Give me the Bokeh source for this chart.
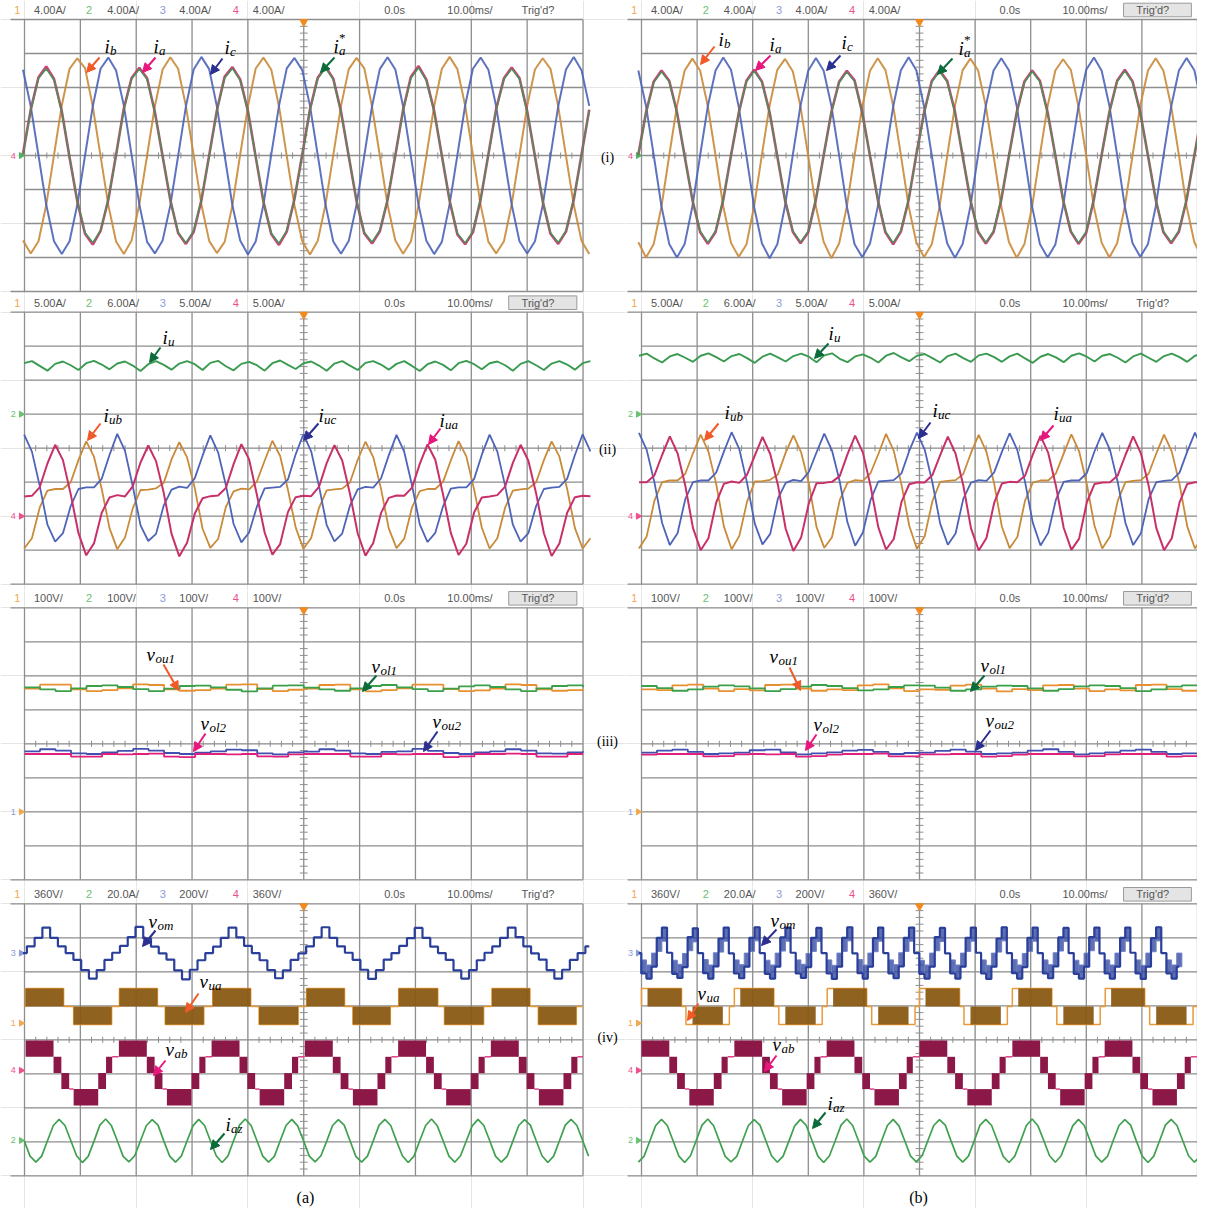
import numpy as np
from bokeh.plotting import figure
from bokeh.layouts import gridplot
from bokeh.models import Arrow, NormalHead
from bokeh.embed import file_html
from bokeh.resources import INLINE
from bokeh.core.properties import value

# ---------------- data (divisions; 10 x 8 div screen, 10 ms/div) ----------------
PERIOD = 1.6667          # fundamental period in divisions
STEP = PERIOD / 12       # sample spacing of the read-off traces

# row (i): phase currents, sampled every PERIOD/12
T0_A1 = -0.027
T0_B1 = -0.057
ia_a = [0.05, 1.35, 2.3, 2.62, 2.25, 1.3, -0.05, -1.35, -2.3, -2.62, -2.22, -1.3,
        0.02, 1.38, 2.28, 2.58, 2.27, 1.28, -0.02, -1.32, -2.28, -2.6, -2.25, -1.32,
        0.0, 1.33, 2.32, 2.6, 2.24, 1.31, -0.04, -1.36, -2.31, -2.63, -2.24, -1.28,
        0.03, 1.36, 2.29, 2.61, 2.26, 1.29, -0.03, -1.34, -2.29, -2.59, -2.23, -1.31,
        0.01, 1.34, 2.31, 2.63, 2.23, 1.32, -0.01, -1.33, -2.32, -2.61, -2.26, -1.29,
        0.04, 1.37, 2.27, 2.59, 2.28, 1.3, -0.02, -1.35, -2.3, -2.6, -2.24, -1.3,
        0.02, 1.35]
ias_a = [0.02, 1.32, 2.26, 2.55, 2.22, 1.28, -0.03, -1.33, -2.27, -2.56, -2.2, -1.29,
         0.0, 1.35, 2.25, 2.54, 2.24, 1.27, -0.01, -1.3, -2.26, -2.57, -2.22, -1.3,
         -0.02, 1.31, 2.28, 2.56, 2.21, 1.29, -0.03, -1.34, -2.28, -2.58, -2.21, -1.27,
         0.01, 1.33, 2.26, 2.57, 2.23, 1.27, -0.02, -1.32, -2.26, -2.55, -2.2, -1.29,
         0.0, 1.32, 2.27, 2.58, 2.2, 1.3, 0.0, -1.31, -2.29, -2.57, -2.23, -1.28,
         0.02, 1.34, 2.24, 2.55, 2.25, 1.28, -0.01, -1.33, -2.27, -2.56, -2.21, -1.29,
         0.0, 1.33]
ib_a = [-2.5, -2.88, -2.52, -1.45, 0.02, 1.47, 2.55, 2.86, 2.57, 1.44, -0.02, -1.46,
        -2.53, -2.9, -2.5, -1.43, 0.0, 1.45, 2.53, 2.89, 2.55, 1.46, 0.01, -1.44,
        -2.51, -2.87, -2.54, -1.46, 0.03, 1.44, 2.56, 2.88, 2.53, 1.45, -0.01, -1.47,
        -2.52, -2.91, -2.51, -1.44, 0.01, 1.46, 2.54, 2.87, 2.56, 1.43, 0.0, -1.45,
        -2.5, -2.89, -2.53, -1.45, -0.02, 1.45, 2.55, 2.9, 2.54, 1.47, 0.02, -1.46,
        -2.54, -2.88, -2.52, -1.44, 0.0, 1.46, 2.53, 2.86, 2.55, 1.44, -0.01, -1.45,
        -2.51, -2.9]
ic_a = [2.52, 1.45, 0.0, -1.45, -2.52, -2.9, -2.52, -1.45, 0.0, 1.45, 2.55, 2.88,
        2.5, 1.47, 0.02, -1.44, -2.54, -2.88, -2.5, -1.46, -0.01, 1.44, 2.53, 2.9,
        2.54, 1.44, -0.01, -1.47, -2.5, -2.91, -2.53, -1.44, 0.02, 1.46, 2.56, 2.87,
        2.51, 1.46, 0.01, -1.45, -2.53, -2.89, -2.51, -1.45, 0.0, 1.45, 2.54, 2.89,
        2.53, 1.45, -0.02, -1.46, -2.51, -2.9, -2.54, -1.43, 0.01, 1.47, 2.55, 2.88,
        2.52, 1.44, 0.0, -1.44, -2.52, -2.88, -2.52, -1.46, -0.02, 1.45, 2.53, 2.9,
        2.51, 1.46]
ia_b = [0.02, 1.27, 2.18, 2.5, 2.2, 1.28, -0.02, -1.3, -2.25, -2.6, -2.25, -1.3,
        0.0, 1.25, 2.2, 2.52, 2.18, 1.27, -0.03, -1.32, -2.24, -2.58, -2.26, -1.29,
        0.01, 1.28, 2.17, 2.49, 2.21, 1.26, -0.01, -1.29, -2.26, -2.61, -2.24, -1.31,
        0.03, 1.26, 2.19, 2.51, 2.19, 1.29, -0.02, -1.31, -2.25, -2.59, -2.25, -1.3,
        0.0, 1.27, 2.18, 2.5, 2.2, 1.27, 0.0, -1.3, -2.24, -2.6, -2.27, -1.28,
        0.02, 1.28, 2.2, 2.52, 2.18, 1.26, -0.01, -1.3, -2.26, -2.58, -2.24, -1.3,
        0.0, 1.27]
ias_b = [0.0, 1.25, 2.15, 2.46, 2.17, 1.26, -0.03, -1.29, -2.22, -2.56, -2.22, -1.28,
         -0.01, 1.24, 2.17, 2.48, 2.15, 1.25, -0.02, -1.3, -2.21, -2.55, -2.23, -1.27,
         0.0, 1.26, 2.14, 2.46, 2.18, 1.24, 0.0, -1.27, -2.23, -2.57, -2.21, -1.29,
         0.02, 1.24, 2.16, 2.47, 2.16, 1.27, -0.01, -1.29, -2.22, -2.56, -2.22, -1.28,
         -0.01, 1.25, 2.15, 2.47, 2.17, 1.25, 0.01, -1.28, -2.21, -2.57, -2.24, -1.26,
         0.01, 1.26, 2.17, 2.49, 2.15, 1.24, 0.0, -1.28, -2.23, -2.55, -2.21, -1.28,
         0.0, 1.25]
ib_b = [-2.55, -3.0, -2.6, -1.5, 0.0, 1.45, 2.5, 2.85, 2.5, 1.45, 0.0, -1.5,
        -2.57, -2.98, -2.62, -1.48, 0.02, 1.47, 2.52, 2.84, 2.48, 1.44, -0.02, -1.51,
        -2.54, -3.02, -2.59, -1.5, 0.0, 1.44, 2.49, 2.86, 2.51, 1.46, 0.01, -1.49,
        -2.56, -2.99, -2.61, -1.51, -0.01, 1.46, 2.51, 2.85, 2.5, 1.45, 0.0, -1.5,
        -2.55, -3.01, -2.6, -1.49, 0.01, 1.45, 2.5, 2.83, 2.52, 1.43, -0.01, -1.52,
        -2.57, -3.0, -2.58, -1.5, 0.0, 1.47, 2.5, 2.86, 2.49, 1.45, 0.02, -1.5,
        -2.55, -3.0]
ic_b = [2.5, 1.45, 0.0, -1.5, -2.6, -3.0, -2.6, -1.5, 0.0, 1.45, 2.5, 2.88,
        2.52, 1.43, -0.02, -1.52, -2.58, -3.02, -2.61, -1.48, 0.01, 1.47, 2.49, 2.87,
        2.49, 1.46, 0.01, -1.49, -2.61, -2.99, -2.59, -1.51, -0.01, 1.44, 2.51, 2.89,
        2.51, 1.44, 0.0, -1.5, -2.59, -3.01, -2.6, -1.5, 0.02, 1.46, 2.5, 2.86,
        2.5, 1.45, -0.01, -1.51, -2.6, -3.0, -2.62, -1.49, 0.0, 1.45, 2.52, 2.88,
        2.49, 1.46, 0.02, -1.5, -2.58, -2.98, -2.6, -1.5, -0.01, 1.44, 2.5, 2.87,
        2.51, 1.45]

# row (ii): dc current i_u and upper-arm currents, sampled every PERIOD/12
T0_A2 = -0.006
T0_B2 = -0.046
iu_a = [2.5, 2.56, 2.42, 2.28, 2.48, 2.55, 2.44, 2.3, 2.5, 2.57, 2.46, 2.32,
        2.49, 2.55, 2.43, 2.27, 2.47, 2.56, 2.45, 2.31, 2.49, 2.56, 2.47, 2.3,
        2.51, 2.57, 2.41, 2.29, 2.48, 2.54, 2.44, 2.28, 2.5, 2.58, 2.45, 2.33,
        2.5, 2.55, 2.43, 2.28, 2.49, 2.56, 2.43, 2.3, 2.51, 2.56, 2.46, 2.31,
        2.48, 2.56, 2.42, 2.27, 2.47, 2.55, 2.45, 2.29, 2.5, 2.57, 2.47, 2.32,
        2.5, 2.55, 2.44, 2.28, 2.48, 2.56, 2.44, 2.3, 2.49, 2.56, 2.46, 2.31,
        2.5, 2.56]
iua_a = [-1.42, -1.4, -1.15, -0.45, 0.1, -0.35, -1.35, -2.5, -3.15, -2.8, -1.9, -1.45,
         -1.38, -1.42, -1.12, -0.42, 0.08, -0.38, -1.32, -2.52, -3.18, -2.78, -1.92, -1.47,
         -1.41, -1.39, -1.17, -0.47, 0.12, -0.33, -1.37, -2.48, -3.13, -2.82, -1.88, -1.44,
         -1.4, -1.41, -1.14, -0.44, 0.09, -0.36, -1.34, -2.51, -3.16, -2.79, -1.91, -1.46,
         -1.39, -1.4, -1.16, -0.46, 0.11, -0.34, -1.36, -2.49, -3.14, -2.81, -1.89, -1.45,
         -1.42, -1.38, -1.13, -0.43, 0.1, -0.37, -1.33, -2.5, -3.17, -2.8, -1.9, -1.44,
         -1.4, -1.41]
iub_a = [-2.95, -2.65, -1.75, -1.25, -1.2, -1.2, -1.0, -0.35, 0.2, -0.25, -1.2, -2.35,
         -2.97, -2.63, -1.77, -1.23, -1.22, -1.18, -1.02, -0.33, 0.18, -0.27, -1.18, -2.37,
         -2.93, -2.67, -1.73, -1.27, -1.19, -1.21, -0.98, -0.37, 0.22, -0.23, -1.22, -2.33,
         -2.96, -2.64, -1.76, -1.24, -1.21, -1.19, -1.01, -0.34, 0.19, -0.26, -1.19, -2.36,
         -2.94, -2.66, -1.74, -1.26, -1.2, -1.2, -0.99, -0.36, 0.21, -0.24, -1.21, -2.34,
         -2.95, -2.65, -1.75, -1.25, -1.21, -1.19, -1.0, -0.35, 0.2, -0.25, -1.2, -2.35,
         -2.95, -2.65]
iuc_a = [0.4, -0.1, -1.1, -2.25, -2.75, -2.5, -1.7, -1.2, -1.15, -1.15, -0.9, -0.2,
         0.42, -0.08, -1.12, -2.27, -2.73, -2.52, -1.68, -1.22, -1.13, -1.17, -0.88, -0.22,
         0.38, -0.12, -1.08, -2.23, -2.77, -2.48, -1.72, -1.18, -1.16, -1.14, -0.92, -0.18,
         0.41, -0.09, -1.11, -2.26, -2.74, -2.51, -1.69, -1.21, -1.14, -1.16, -0.89, -0.21,
         0.39, -0.11, -1.09, -2.24, -2.76, -2.49, -1.71, -1.19, -1.15, -1.15, -0.91, -0.19,
         0.4, -0.1, -1.1, -2.25, -2.75, -2.5, -1.7, -1.2, -1.16, -1.14, -0.9, -0.2,
         0.41, -0.09]
iu_b = [2.72, 2.78, 2.64, 2.52, 2.7, 2.77, 2.66, 2.54, 2.72, 2.79, 2.68, 2.55,
        2.71, 2.77, 2.65, 2.51, 2.69, 2.78, 2.67, 2.55, 2.71, 2.78, 2.69, 2.53,
        2.73, 2.79, 2.63, 2.53, 2.7, 2.76, 2.66, 2.52, 2.72, 2.8, 2.67, 2.56,
        2.72, 2.77, 2.65, 2.52, 2.71, 2.78, 2.65, 2.54, 2.73, 2.78, 2.68, 2.54,
        2.7, 2.78, 2.64, 2.51, 2.69, 2.77, 2.67, 2.53, 2.72, 2.79, 2.69, 2.55,
        2.72, 2.77, 2.66, 2.52, 2.7, 2.78, 2.66, 2.54, 2.71, 2.78, 2.68, 2.54,
        2.72, 2.78]
iua_b = [-1.0, -1.0, -0.8, -0.2, 0.35, -0.15, -1.1, -2.35, -3.0, -2.65, -1.6, -1.05,
         -0.98, -1.02, -0.78, -0.22, 0.33, -0.17, -1.08, -2.37, -3.02, -2.63, -1.62, -1.03,
         -1.02, -0.99, -0.82, -0.18, 0.37, -0.13, -1.12, -2.33, -2.98, -2.67, -1.58, -1.06,
         -1.0, -1.01, -0.79, -0.21, 0.34, -0.16, -1.09, -2.36, -3.01, -2.64, -1.61, -1.04,
         -0.99, -1.0, -0.81, -0.19, 0.36, -0.14, -1.11, -2.34, -2.99, -2.66, -1.59, -1.05,
         -1.01, -1.0, -0.8, -0.2, 0.35, -0.15, -1.1, -2.35, -3.0, -2.65, -1.6, -1.05,
         -1.0, -1.0]
iub_b = [-2.95, -2.6, -1.55, -1.0, -0.95, -0.95, -0.75, -0.15, 0.4, -0.1, -1.05, -2.3,
         -2.97, -2.58, -1.57, -0.98, -0.97, -0.93, -0.77, -0.13, 0.38, -0.12, -1.03, -2.32,
         -2.93, -2.62, -1.53, -1.02, -0.94, -0.96, -0.73, -0.17, 0.42, -0.08, -1.07, -2.28,
         -2.96, -2.59, -1.56, -0.99, -0.96, -0.94, -0.76, -0.14, 0.39, -0.11, -1.04, -2.31,
         -2.94, -2.61, -1.54, -1.01, -0.95, -0.95, -0.74, -0.16, 0.41, -0.09, -1.06, -2.29,
         -2.95, -2.6, -1.55, -1.0, -0.96, -0.94, -0.75, -0.15, 0.4, -0.1, -1.05, -2.3,
         -2.95, -2.6]
iuc_b = [0.45, -0.05, -1.0, -2.2, -2.85, -2.5, -1.5, -1.0, -0.95, -0.95, -0.72, -0.1,
         0.47, -0.03, -1.02, -2.22, -2.83, -2.52, -1.48, -1.02, -0.93, -0.97, -0.7, -0.12,
         0.43, -0.07, -0.98, -2.18, -2.87, -2.48, -1.52, -0.98, -0.96, -0.94, -0.74, -0.08,
         0.46, -0.04, -1.01, -2.21, -2.84, -2.51, -1.49, -1.01, -0.94, -0.96, -0.71, -0.11,
         0.44, -0.06, -0.99, -2.19, -2.86, -2.49, -1.51, -0.99, -0.95, -0.95, -0.73, -0.09,
         0.45, -0.05, -1.0, -2.2, -2.85, -2.5, -1.5, -1.0, -0.96, -0.94, -0.72, -0.1,
         0.46, -0.04]

# row (iii): module capacitor voltages, sampled every PERIOD/6 (stepped)
T0_3 = 0.0
vou1_a = [1.62, 1.74, 1.74, 1.6, 1.55, 1.58, 1.63, 1.75, 1.73, 1.6, 1.56, 1.58,
          1.62, 1.74, 1.75, 1.61, 1.55, 1.59, 1.62, 1.73, 1.74, 1.6, 1.54, 1.58,
          1.63, 1.74, 1.74, 1.61, 1.55, 1.57, 1.62, 1.75, 1.73, 1.6, 1.56, 1.58, 1.62]
vol1_a = [1.66, 1.6, 1.55, 1.63, 1.7, 1.72, 1.67, 1.61, 1.55, 1.62, 1.7, 1.71,
          1.66, 1.59, 1.54, 1.63, 1.71, 1.72, 1.65, 1.6, 1.56, 1.63, 1.7, 1.73,
          1.66, 1.61, 1.55, 1.62, 1.69, 1.72, 1.67, 1.6, 1.55, 1.63, 1.7, 1.72, 1.66]
vou2_a = [-0.22, -0.16, -0.2, -0.28, -0.3, -0.25, -0.21, -0.15, -0.2, -0.27, -0.3, -0.26,
          -0.22, -0.17, -0.19, -0.28, -0.31, -0.25, -0.23, -0.16, -0.2, -0.28, -0.3, -0.24,
          -0.22, -0.15, -0.21, -0.27, -0.3, -0.25, -0.22, -0.16, -0.2, -0.28, -0.29, -0.25, -0.22]
vol2_a = [-0.3, -0.3, -0.3, -0.38, -0.38, -0.3, -0.31, -0.3, -0.29, -0.38, -0.39, -0.3,
          -0.3, -0.31, -0.3, -0.37, -0.38, -0.31, -0.3, -0.3, -0.3, -0.38, -0.38, -0.3,
          -0.31, -0.3, -0.3, -0.39, -0.37, -0.3, -0.3, -0.29, -0.3, -0.38, -0.38, -0.3, -0.3]
vou1_b = [1.6, 1.58, 1.72, 1.74, 1.62, 1.55, 1.61, 1.57, 1.73, 1.74, 1.62, 1.56,
          1.6, 1.58, 1.72, 1.75, 1.63, 1.55, 1.6, 1.59, 1.71, 1.74, 1.62, 1.54,
          1.61, 1.58, 1.72, 1.73, 1.62, 1.55, 1.6, 1.57, 1.73, 1.74, 1.61, 1.56, 1.6]
vol1_b = [1.7, 1.64, 1.56, 1.6, 1.68, 1.72, 1.69, 1.63, 1.55, 1.61, 1.68, 1.73,
          1.7, 1.64, 1.57, 1.6, 1.67, 1.72, 1.71, 1.65, 1.56, 1.6, 1.68, 1.71,
          1.7, 1.63, 1.56, 1.61, 1.69, 1.72, 1.7, 1.64, 1.55, 1.6, 1.68, 1.72, 1.7]
vou2_b = [-0.26, -0.2, -0.17, -0.24, -0.3, -0.28, -0.26, -0.19, -0.17, -0.25, -0.31, -0.28,
          -0.25, -0.2, -0.18, -0.24, -0.3, -0.27, -0.26, -0.21, -0.17, -0.23, -0.3, -0.28,
          -0.26, -0.2, -0.16, -0.24, -0.31, -0.28, -0.25, -0.2, -0.17, -0.24, -0.3, -0.28, -0.26]
vol2_b = [-0.32, -0.3, -0.3, -0.3, -0.37, -0.36, -0.31, -0.3, -0.31, -0.3, -0.38, -0.36,
          -0.32, -0.3, -0.3, -0.29, -0.37, -0.37, -0.31, -0.31, -0.3, -0.3, -0.38, -0.36,
          -0.32, -0.3, -0.3, -0.3, -0.37, -0.36, -0.31, -0.3, -0.3, -0.3, -0.38, -0.36, -0.32]

# row (iv)
VOM_MID = 2.55
T0_VOM_A = -0.027
vom_a = [2.55, 2.75, 3.0, 3.3, 3.0, 2.75, 2.55, 2.35, 2.05, 1.8, 2.05, 2.35,
         2.56, 2.76, 3.02, 3.32, 2.98, 2.74, 2.54, 2.36, 2.04, 1.78, 2.06, 2.34,
         2.55, 2.74, 3.0, 3.3, 3.01, 2.76, 2.55, 2.34, 2.05, 1.81, 2.04, 2.35,
         2.54, 2.75, 3.01, 3.31, 3.0, 2.75, 2.56, 2.35, 2.06, 1.79, 2.05, 2.36,
         2.55, 2.76, 2.99, 3.29, 3.0, 2.74, 2.55, 2.35, 2.04, 1.8, 2.05, 2.34,
         2.56, 2.75, 3.0, 3.3, 3.02, 2.75, 2.54, 2.36, 2.05, 1.8, 2.06, 2.35,
         2.55, 2.75]
T0_VOM_B = -0.05
vom_b = [2.55, 1.95, 1.8, 2.15, 3.0, 3.3, 2.56, 1.94, 1.82, 2.14, 3.02, 3.28,
         2.55, 1.96, 1.8, 2.16, 2.98, 3.3, 2.54, 1.95, 1.81, 2.15, 3.0, 3.31,
         2.55, 1.94, 1.8, 2.15, 3.01, 3.3, 2.56, 1.95, 1.82, 2.14, 3.0, 3.29,
         2.55, 1.95, 1.79, 2.15, 3.0, 3.31, 2.54, 1.96, 1.8, 2.15, 2.99, 3.3,
         2.55, 1.95, 1.81, 2.16, 3.0, 3.3, 2.55, 1.94, 1.8, 2.15, 3.02, 3.29,
         2.54, 1.95, 1.8, 2.15, 3.0, 3.3, 2.56, 1.95, 1.79, 2.15, 2.98, 3.31,
         2.55, 1.96, 1.8, 2.14, 3.0, 3.3, 2.55, 1.95, 1.81, 2.16, 3.01, 3.29,
         2.55, 1.94, 1.8, 2.15, 3.02, 3.3, 2.54, 1.95, 1.8, 2.15, 3.0, 3.3,
         2.56, 1.95, 1.79, 2.15, 2.99, 3.31, 2.55, 1.95, 1.8, 2.15]
VUA_LEVELS = [0.45, 0.98, 1.51]
vua_hi_a = [[0.02, 0.70], [1.70, 2.38], [3.37, 4.05], [5.05, 5.73], [6.70, 7.40], [8.37, 9.05]]
vua_lo_a = [[0.88, 1.56], [2.52, 3.21], [4.20, 4.90], [5.88, 6.55], [7.52, 8.22], [9.20, 9.88]]
vua_hi_b = [[0.0, 0.72], [1.67, 2.38], [3.34, 4.05], [5.0, 5.72], [6.67, 7.38], [8.34, 9.05]]
vua_lo_b = [[0.8, 1.58], [2.47, 3.25], [4.14, 4.92], [5.8, 6.58], [7.47, 8.25], [9.14, 9.92]]
VAB_LEVELS = [-1.93, -1.45, -0.98, -0.5, -0.02]
# one period of v_ab: (start, end, lower level, upper level, PWM band?)
vab_period = [(0.0, 0.5, 3, 4, 1), (0.5, 0.64, 2, 3, 1), (0.64, 0.78, 1, 2, 1),
              (0.78, 0.86, 1, 1, 0), (0.86, 1.3, 0, 1, 1), (1.3, 1.44, 1, 2, 1),
              (1.44, 1.55, 2, 3, 1), (1.55, 1.667, 3, 3, 0)]
VAB_START_A = [0.02, 1.69, 3.35, 5.02, 6.69, 8.35]
VAB_START_B = [0.0, 1.67, 3.33, 5.0, 6.67, 8.33]
T0_IAZ_A = -0.005
iaz_a = [-2.97, -3.42, -3.6, -3.42, -2.97, -2.52, -2.34, -2.52,
         -2.96, -3.41, -3.61, -3.43, -2.98, -2.51, -2.33, -2.53,
         -2.97, -3.43, -3.59, -3.41, -2.96, -2.52, -2.35, -2.51,
         -2.98, -3.42, -3.6, -3.42, -2.97, -2.53, -2.34, -2.52,
         -2.97, -3.41, -3.61, -3.42, -2.96, -2.51, -2.33, -2.52,
         -2.97, -3.42, -3.6, -3.43, -2.97, -2.52, -2.34, -2.53,
         -2.96, -3.42, -3.59, -3.41, -2.98, -2.52, -2.35, -2.51,
         -2.97, -3.43, -3.6, -3.42, -2.97, -2.51, -2.34, -2.52,
         -2.98, -3.41, -3.61, -3.42, -2.96, -2.52, -2.33, -2.53,
         -2.97, -3.42, -3.6, -3.41, -2.97, -2.53, -2.34, -2.52,
         -2.96, -3.42, -3.6, -3.43, -2.98, -2.52, -2.35, -2.51,
         -2.97, -3.41, -3.61, -3.42, -2.97, -2.51, -2.34, -2.52,
         -2.97, -3.42]
T0_IAZ_B = -0.057
iaz_b = [-3.6, -3.42, -2.97, -2.52, -2.34, -2.52, -2.97, -3.42,
         -3.61, -3.41, -2.96, -2.51, -2.33, -2.53, -2.98, -3.43,
         -3.59, -3.43, -2.97, -2.52, -2.35, -2.51, -2.96, -3.41,
         -3.6, -3.42, -2.98, -2.53, -2.34, -2.52, -2.97, -3.42,
         -3.61, -3.41, -2.97, -2.51, -2.33, -2.52, -2.96, -3.42,
         -3.6, -3.43, -2.97, -2.52, -2.34, -2.53, -2.97, -3.42,
         -3.59, -3.41, -2.96, -2.52, -2.35, -2.51, -2.98, -3.42,
         -3.6, -3.42, -2.97, -2.51, -2.34, -2.52, -2.97, -3.43,
         -3.61, -3.42, -2.98, -2.52, -2.33, -2.53, -2.96, -3.41,
         -3.6, -3.41, -2.97, -2.53, -2.34, -2.52, -2.97, -3.42,
         -3.6, -3.43, -2.96, -2.52, -2.35, -2.51, -2.98, -3.42,
         -3.61, -3.42, -2.97, -2.51, -2.34, -2.52, -2.97, -3.41,
         -3.6, -3.42]

# ---------------- layout (page pixels) ----------------
ROW_TOP = [0, 294, 590, 886]
ROW_H = [294, 296, 296, 322]
GRID_TOP = [19.0, 311.7, 607.3, 903.3]
DIV_H = 34.0
COL_LEFT = [0, 625]
COL_W = [625, 572]
GRID_LEFT = [24.0, 641.0]
DIV_W = [55.85, 55.6]

GRIDC = "#8e8e8e"
SANS = value("Liberation Sans")
SERIF = value("Liberation Serif")


def pg(c, r, px, py):
    return (px - GRID_LEFT[c]) / DIV_W[c], 4 - (py - GRID_TOP[r]) / DIV_H


def tgrid(t0, step, n):
    return list(t0 + step * np.arange(n))


def make_fig(c, r):
    x0 = (COL_LEFT[c] - GRID_LEFT[c]) / DIV_W[c]
    x1 = x0 + COL_W[c] / DIV_W[c]
    y1 = 4 + (GRID_TOP[r] - ROW_TOP[r]) / DIV_H
    y0 = y1 - ROW_H[r] / DIV_H
    p = figure(width=COL_W[c], height=ROW_H[r], x_range=(x0, x1), y_range=(y0, y1),
               output_backend="svg", toolbar_location=None,
               x_axis_location=None, y_axis_location=None, min_border=0)
    p.outline_line_color = None
    p.background_fill_color = "white"
    p.border_fill_color = "white"
    xs = list(range(11))
    p.segment(x0=xs, y0=[-4] * 11, x1=xs, y1=[4] * 11, line_color=GRIDC, line_width=1.3)
    ys = list(range(-3, 4))
    p.segment(x0=[0] * 7, y0=ys, x1=[10] * 7, y1=ys, line_color=GRIDC, line_width=1.3)
    p.segment(x0=[-0.25, -0.25], y0=[4, -4], x1=[10, 10], y1=[4, -4], line_color=GRIDC, line_width=1.3)
    ty = [k * 0.2 - 4 for k in range(41) if k % 5]
    p.segment(x0=[4.93] * len(ty), y0=ty, x1=[5.07] * len(ty), y1=ty, line_color=GRIDC, line_width=1)
    tx = [k * 0.2 for k in range(51) if k % 5]
    p.segment(x0=tx, y0=[-0.09] * len(tx), x1=tx, y1=[0.09] * len(tx), line_color=GRIDC, line_width=1)
    p.scatter([5], [3.93], marker="inverted_triangle", size=8, color="#f08a20")
    return p


HEAD = [["4.00A/"] * 4, ["5.00A/", "6.00A/", "5.00A/", "5.00A/"], ["100V/"] * 4,
        ["360V/", "20.0A/", "200V/", "360V/"]]
CH_COL = ["#f2a850", "#6cc070", "#8d9ad8", "#ee4f8c"]
BOXED = {(0, 0): False, (1, 0): True, (0, 1): True, (1, 1): False,
         (0, 2): True, (1, 2): True, (0, 3): False, (1, 3): True}


def header(p, c, r):
    hy = 4 + 9.5 / DIV_H
    p.text(x=[-0.13, 1.155, 2.475, 3.785], y=[hy] * 4, text=["1", "2", "3", "4"],
           text_color=CH_COL, text_font=SANS, text_font_size="11px",
           text_align="center", text_baseline="middle")
    p.text(x=[0.17, 1.48, 2.772, 4.085], y=[hy] * 4, text=HEAD[r], text_color="#555555",
           text_font=SANS, text_font_size="11px", text_baseline="middle")
    if BOXED[(c, r)]:
        p.rect(x=[9.28], y=[hy], width=1.22, height=0.4, fill_color="#e4e4e4",
               line_color="#9a9a9a", line_width=1)
    p.text(x=[6.44, 7.57, 8.9], y=[hy] * 3, text=["0.0s", "10.00ms/", "Trig'd?"],
           text_color="#555555", text_font=SANS, text_font_size="11px", text_baseline="middle")


MARKERS = [[(0.0, "4", "#ee4f8c", "#4fb060")],
           [(1.0, "2", "#6cc070", "#6cc070"), (-2.0, "4", "#ee4f8c", "#ee4f8c")],
           [(-2.0, "1", "#8d9ad8", "#f2a850")],
           [(2.55, "3", "#8d9ad8", "#8d9ad8"), (0.49, "1", "#f2a850", "#f2a850"),
            (-0.9, "4", "#ee4f8c", "#ee4f8c"), (-2.96, "2", "#6cc070", "#6cc070")]]


def ground_markers(p, r):
    for y, n, tc, ac in MARKERS[r]:
        p.text(x=[-0.2], y=[y], text=[n], text_color=tc, text_font=SANS, text_font_size="9px",
               text_align="center", text_baseline="middle")
        p.scatter([-0.06], [y], marker="triangle", angle=-np.pi / 2, size=6, color=ac)


def mlabel(p, c, r, px, py, main, sub, sup=None):
    x, y = pg(c, r, px, py)
    p.text(x=[x], y=[y], text=[main], text_font=SERIF, text_font_style="italic",
           text_font_size="19px", text_color="black", text_baseline="alphabetic")
    w = 5.5 if main == "i" else 9.0
    xs = x + w / DIV_W[c]
    p.text(x=[xs], y=[y - 4 / DIV_H], text=[sub], text_font=SERIF, text_font_style="italic",
           text_font_size="13px", text_color="black", text_baseline="alphabetic")
    if sup:
        p.text(x=[xs], y=[y + 9 / DIV_H], text=[sup], text_font=SERIF,
               text_font_size="13px", text_color="black", text_baseline="alphabetic")


def arrow(p, c, r, p0, p1, col):
    xs, ys = pg(c, r, *p0)
    xe, ye = pg(c, r, *p1)
    p.add_layout(Arrow(end=NormalHead(size=9, fill_color=col, line_color=col, line_width=1),
                       x_start=xs, y_start=ys, x_end=xe, y_end=ye, line_color=col, line_width=2))


AR_OR, AR_PK, AR_NV, AR_GR = "#f05a28", "#e8177d", "#2b2f8f", "#0b6b3a"
C_PK, C_GR, C_OR, C_BL = "#c8306a", "#3a9a50", "#c98a3a", "#4d64b8"

figs = [[None, None] for _ in range(4)]
for r in range(4):
    for c in range(2):
        p = make_fig(c, r)
        header(p, c, r)
        ground_markers(p, r)
        figs[r][c] = p

# ---- row (i)
for c, (t0, ia, ias, ib, ic) in enumerate([(T0_A1, ia_a, ias_a, ib_a, ic_a),
                                           (T0_B1, ia_b, ias_b, ib_b, ic_b)]):
    p = figs[0][c]
    t = tgrid(t0, STEP, len(ia))
    p.line(t, ib, line_color=C_OR, line_width=2.0, alpha=0.9)
    p.line(t, ic, line_color=C_BL, line_width=2.0, alpha=0.9)
    p.line(t, ia, line_color=C_PK, line_width=2.6, alpha=0.9)
    p.line(t, ias, line_color=C_GR, line_width=1.4, alpha=0.95)

# ---- row (ii)
for c, (t0, iu, iua, iub, iuc) in enumerate([(T0_A2, iu_a, iua_a, iub_a, iuc_a),
                                             (T0_B2, iu_b, iua_b, iub_b, iuc_b)]):
    p = figs[1][c]
    t = tgrid(t0, STEP, len(iu))
    p.line(t, iu, line_color=C_GR, line_width=1.9)
    p.line(t, iub, line_color=C_OR, line_width=1.8)
    p.line(t, iuc, line_color=C_BL, line_width=1.8)
    p.line(t, iua, line_color=C_PK, line_width=2.0)

# ---- row (iii)
for c, (vou1, vol1, vou2, vol2) in enumerate([(vou1_a, vol1_a, vou2_a, vol2_a),
                                              (vou1_b, vol1_b, vou2_b, vol2_b)]):
    p = figs[2][c]
    t = tgrid(T0_3, PERIOD / 6, len(vou1))
    p.step(t, vou1, mode="after", line_color="#e89030", line_width=1.8)
    p.step(t, vol1, mode="after", line_color="#3aa04a", line_width=1.8)
    p.step(t, vou2, mode="after", line_color="#4050b0", line_width=1.8)
    p.step(t, vol2, mode="after", line_color="#e0207a", line_width=1.8)

# ---- row (iv)
iv_sets = [(T0_VOM_A, STEP, vom_a, vua_hi_a, vua_lo_a, VAB_START_A, T0_IAZ_A, iaz_a, 0.0),
           (T0_VOM_B, PERIOD / 18, vom_b, vua_hi_b, vua_lo_b, VAB_START_B, T0_IAZ_B, iaz_b, 0.15)]
for c, (tv0, tvs, vom, vhi, vlo, vst, tz0, iaz, gap) in enumerate(iv_sets):
    p = figs[3][c]
    tv = tgrid(tv0, tvs, len(vom))
    if c == 1:
        # dense PWM bands of v_om: each plateau switches towards its neighbouring level
        bl, br, bb, bt = [], [], [], []
        for tk, vk in zip(tv, vom):
            if abs(vk - VOM_MID) > 0.1:
                lo, hi = (vk - 0.4, vk) if vk > VOM_MID else (vk, vk + 0.4)
                bl.append(tk - tvs / 2); br.append(tk + tvs / 2); bb.append(lo); bt.append(hi)
        p.quad(left=bl, right=br, bottom=bb, top=bt, fill_color="#2a3f9a", fill_alpha=0.75,
               line_color="#6f80c8", line_width=1)
    p.step(tv, vom, mode="center", line_color="#2a3f9a", line_width=2.2)
    # v_ua envelope (thin orange) and PWM blocks
    ex, ey = [0.0], [VUA_LEVELS[1]]
    for (h0, h1), (l0, l1) in zip(vhi, vlo):
        ex += [h0, h0, h1, h1, l0, l0, l1, l1]
        ey += [VUA_LEVELS[1], VUA_LEVELS[2], VUA_LEVELS[2], VUA_LEVELS[1],
               VUA_LEVELS[1], VUA_LEVELS[0], VUA_LEVELS[0], VUA_LEVELS[1]]
    ex.append(10.0); ey.append(VUA_LEVELS[1])
    p.line(ex, ey, line_color="#e89a3a", line_width=1.5)
    p.quad(left=[b[0] + gap * (b[1] - b[0]) for b in vhi], right=[b[1] for b in vhi],
           bottom=[VUA_LEVELS[1]] * len(vhi), top=[VUA_LEVELS[2]] * len(vhi),
           fill_color="#8a5a14", fill_alpha=0.95, line_color=None)
    p.quad(left=[b[0] + gap * (b[1] - b[0]) for b in vlo], right=[b[1] - gap * (b[1] - b[0]) for b in vlo],
           bottom=[VUA_LEVELS[0]] * len(vlo), top=[VUA_LEVELS[1]] * len(vlo),
           fill_color="#8a5a14", fill_alpha=0.95, line_color=None)
    # v_ab stair with PWM bands
    ql, qr, qb, qt, lx0, lx1, ly = [], [], [], [], [], [], []
    for s in vst:
        for a, b, lo, hi, f in vab_period:
            if s + a >= 10:
                continue
            e = min(s + b, 10)
            if f:
                ql.append(s + a); qr.append(e); qb.append(VAB_LEVELS[lo]); qt.append(VAB_LEVELS[hi])
            else:
                lx0.append(s + a); lx1.append(e); ly.append(VAB_LEVELS[lo])
    p.segment(x0=lx0, y0=ly, x1=lx1, y1=ly, line_color="#e0408a", line_width=1.5)
    p.quad(left=ql, right=qr, bottom=qb, top=qt, fill_color="#8c1848", line_color=None)
    p.line(tgrid(tz0, PERIOD / 16, len(iaz)), iaz, line_color="#40a050", line_width=1.7)

# ---- labels
L = [
    (0, 0, [((104, 46), "i", "b", None, (99, 57), (86, 72), AR_OR),
            ((153, 46), "i", "a", None, (155, 57), (142, 72), AR_PK),
            ((224, 47), "i", "c", None, (222, 58), (210, 74), AR_NV),
            ((333, 46), "i", "a", "*", (334, 57), (320, 72), AR_GR)]),
    (1, 0, [((718, 39), "i", "b", None, (714, 46), (700, 64), AR_OR),
            ((769, 44), "i", "a", None, (770, 55), (755, 70), AR_PK),
            ((841, 42), "i", "c", None, (840, 55), (826, 70), AR_NV),
            ((958, 48), "i", "a", "*", (952, 58), (937, 74), AR_GR)]),
    (0, 1, [((162, 337), "i", "u", None, (160, 347), (149, 362), AR_GR),
            ((103, 415), "i", "ub", None, (100, 423), (87, 440), AR_OR),
            ((318, 415), "i", "uc", None, (318, 423), (303, 440), AR_NV),
            ((439, 420), "i", "ua", None, (440, 428), (428, 444), AR_PK)]),
    (1, 1, [((828, 333), "i", "u", None, (828, 343), (814, 358), AR_GR),
            ((724, 412), "i", "ub", None, (718, 423), (704, 440), AR_OR),
            ((932, 410), "i", "uc", None, (930, 422), (918, 438), AR_NV),
            ((1053, 413), "i", "ua", None, (1053, 425), (1040, 440), AR_PK)]),
    (0, 2, [((146, 654), "v", "ou1", None, (163, 664), (178, 690), AR_OR),
            ((371, 666), "v", "ol1", None, (376, 675), (362, 691), AR_GR),
            ((200, 723), "v", "ol2", None, (205, 733), (193, 751), AR_PK),
            ((432, 721), "v", "ou2", None, (437, 731), (423, 751), AR_NV)]),
    (1, 2, [((769, 656), "v", "ou1", None, (789, 667), (800, 690), AR_OR),
            ((980, 665), "v", "ol1", None, (984, 675), (970, 691), AR_GR),
            ((813, 724), "v", "ol2", None, (816, 734), (805, 750), AR_PK),
            ((985, 720), "v", "ou2", None, (990, 730), (975, 750), AR_NV)]),
    (0, 3, [((148, 921), "v", "om", None, (155, 930), (142, 946), AR_NV),
            ((199, 981), "v", "ua", None, (198, 993), (185, 1012), AR_OR),
            ((165, 1049), "v", "ab", None, (165, 1060), (153, 1075), AR_PK),
            ((225, 1124), "i", "az", None, (224, 1133), (210, 1149), AR_GR)]),
    (1, 3, [((770, 920), "v", "om", None, (776, 929), (761, 945), AR_NV),
            ((697, 993), "v", "ua", None, (698, 1003), (687, 1020), AR_OR),
            ((772, 1044), "v", "ab", None, (776, 1055), (764, 1071), AR_PK),
            ((827, 1103), "i", "az", None, (825, 1112), (812, 1128), AR_GR)]),
]
for c, r, items in L:
    p = figs[r][c]
    for pos, main, sub, sup, a0, a1, col in items:
        mlabel(p, c, r, pos[0], pos[1], main, sub, sup)
        arrow(p, c, r, a0, a1, col)

ROWLAB = [("(i)", 157), ("(ii)", 449), ("(iii)", 741), ("(iv)", 1037)]
for r, (txt, py) in enumerate(ROWLAB):
    x, y = pg(0, r, 607, py)
    figs[r][0].text(x=[x], y=[y], text=[txt], text_font=SERIF, text_font_size="14px",
                    text_align="center", text_baseline="middle", text_color="black")
for c, (txt, px) in enumerate([("(a)", 305), ("(b)", 918)]):
    x, y = pg(c, 3, px, 1197)
    figs[3][c].text(x=[x], y=[y], text=[txt], text_font=SERIF, text_font_size="16px",
                    text_align="center", text_baseline="middle", text_color="black")

grid = gridplot([[figs[r][0], figs[r][1]] for r in range(4)], toolbar_location=None)
open("out.html", "w").write(file_html(grid, INLINE))
